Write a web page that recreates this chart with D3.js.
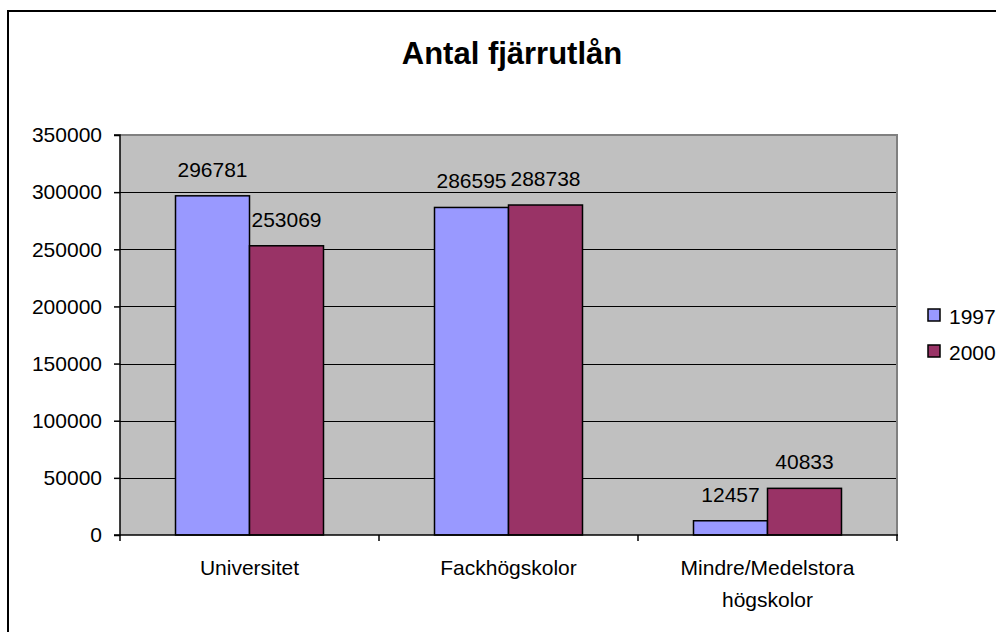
<!DOCTYPE html>
<html>
<head>
<meta charset="utf-8">
<script src="https://cdn.jsdelivr.net/npm/d3@7"></script>
<style>
  html, body { margin: 0; padding: 0; background: #fff; }
  svg { display: block; font-family: "Liberation Sans", Arial, sans-serif; }
</style>
</head>
<body>
<svg id="chart" width="996" height="632"></svg>
<script>
const title = "Antal fjärrutlån";
const categories = ["Universitet", "Fackhögskolor", "Mindre/Medelstora\nhögskolor"];
const seriesNames = ["1997", "2000"];
const values1997 = [296781, 286595, 12457];
const values2000 = [253069, 288738, 40833];
const yTicks = [0, 50000, 100000, 150000, 200000, 250000, 300000, 350000];
const colors = ["#9999FF", "#993366"];

const seriesValues = [values1997, values2000];
const svg = d3.select("#chart");

// outer chart border
svg.append("rect").attr("x", 8).attr("y", 11).attr("width", 1100).attr("height", 1000)
  .attr("fill", "#fff").attr("stroke", "#000").attr("stroke-width", 2);

const plot = { left: 120, right: 897, top: 135, bottom: 535 };

const y = d3.scaleLinear().domain([0, 350000]).range([plot.bottom, plot.top]);
const x0 = d3.scaleBand().domain(categories).range([plot.left, plot.right]).padding(0);
const bw = x0.bandwidth();
const gap = bw * 0.75 / 3.5;
const x1 = d3.scaleBand().domain(seriesNames).range([gap, bw - gap]).padding(0);

// plot area background
svg.append("rect").attr("x", plot.left).attr("y", plot.top)
  .attr("width", plot.right - plot.left).attr("height", plot.bottom - plot.top)
  .attr("fill", "#C0C0C0");

// gridlines
svg.append("g").selectAll("line").data(yTicks.filter(t => t > 0 && t < 350000)).join("line")
  .attr("x1", plot.left).attr("x2", plot.right)
  .attr("y1", d => Math.round(y(d)) + 0.5).attr("y2", d => Math.round(y(d)) + 0.5)
  .attr("stroke", "#000").attr("stroke-width", 1.2);

// plot border top/right (gray)
svg.append("path")
  .attr("d", `M${plot.left},${plot.top} H${plot.right} V${plot.bottom}`)
  .attr("fill", "none").attr("stroke", "#808080").attr("stroke-width", 2);

// bars
const groups = svg.append("g").selectAll("g").data(categories).join("g")
  .attr("transform", d => `translate(${x0(d)},0)`);
groups.selectAll("rect")
  .data((d, i) => seriesNames.map((s, j) => ({ s, j, v: seriesValues[j][i] })))
  .join("rect")
  .attr("x", d => x1(d.s))
  .attr("width", x1.bandwidth())
  .attr("y", d => y(d.v))
  .attr("height", d => y(0) - y(d.v))
  .attr("fill", d => colors[d.j])
  .attr("stroke", "#000").attr("stroke-width", 1.5);

// data labels
groups.selectAll("text")
  .data((d, i) => seriesNames.map((s, j) => ({ s, j, v: seriesValues[j][i] })))
  .join("text")
  .attr("x", d => x1(d.s) + x1.bandwidth() / 2)
  .attr("y", d => y(d.v) - 19)
  .attr("text-anchor", "middle")
  .attr("font-size", 21)
  .attr("fill", "#000")
  .text(d => d.v);

// y axis
const yAxis = d3.axisLeft(y).tickValues(yTicks).tickSize(6).tickPadding(12).tickFormat(d3.format("d"));
const gy = svg.append("g").attr("transform", `translate(${plot.left},0)`).call(yAxis);
gy.select(".domain").attr("stroke", "#000").attr("stroke-width", 1.5).attr("d", `M-6,${plot.top}H0V${plot.bottom}H-6`);
gy.selectAll(".tick line").attr("stroke", "#000").attr("stroke-width", 1.5);
gy.selectAll(".tick text").attr("font-size", 21).attr("fill", "#000")
  .attr("font-family", "'Liberation Sans', Arial, sans-serif");

// x axis
const tickPositions = [plot.left, ...categories.map(c => x0(c) + bw)];
svg.append("line").attr("x1", plot.left).attr("x2", plot.right + 1)
  .attr("y1", plot.bottom).attr("y2", plot.bottom)
  .attr("stroke", "#000").attr("stroke-width", 1.5);
svg.append("g").selectAll("line").data(tickPositions).join("line")
  .attr("x1", d => d).attr("x2", d => d)
  .attr("y1", plot.bottom).attr("y2", plot.bottom + 6)
  .attr("stroke", "#000").attr("stroke-width", 1.5);

// category labels
const catText = svg.append("g").selectAll("text").data(categories).join("text")
  .attr("x", d => x0(d) + bw / 2)
  .attr("y", 575)
  .attr("text-anchor", "middle")
  .attr("font-size", 21)
  .attr("fill", "#000");
catText.each(function(d) {
  const lines = d.split("\n");
  d3.select(this).selectAll("tspan").data(lines).join("tspan")
    .attr("x", x0(d) + bw / 2)
    .attr("dy", (l, i) => i === 0 ? 0 : 32)
    .text(l => l);
});

// title
svg.append("text").attr("x", 512).attr("y", 64)
  .attr("text-anchor", "middle").attr("font-size", 31).attr("font-weight", "bold")
  .attr("fill", "#000").text(title);

// legend
const legend = svg.append("g").selectAll("g").data(seriesNames).join("g")
  .attr("transform", (d, i) => `translate(928,${309 + i * 36})`);
legend.append("rect").attr("width", 12).attr("height", 12)
  .attr("fill", (d, i) => colors[i]).attr("stroke", "#000").attr("stroke-width", 1.5);
legend.append("text").attr("x", 21).attr("y", 15)
  .attr("font-size", 21).attr("fill", "#000").text(d => d);
</script>
</body>
</html>
